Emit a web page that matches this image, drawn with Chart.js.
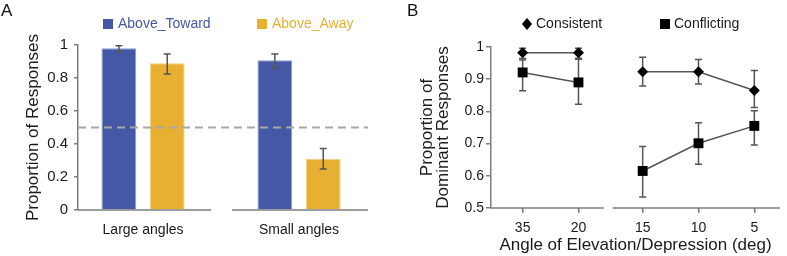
<!DOCTYPE html>
<html>
<head>
<meta charset="utf-8">
<script src="https://cdn.jsdelivr.net/npm/chart.js@4"></script>
<style>
  body { margin: 0; background: #fff; }
  #wrap { position: relative; width: 787px; height: 256px; }
  #wrap canvas { position: absolute; top: 0; }
</style>
</head>
<body>
<div id="wrap">
  <canvas id="chartA" width="390" height="256" style="left:0"></canvas>
  <canvas id="chartB" width="397" height="256" style="left:390px"></canvas>
</div>
<script>
// ---- panel A data ----
const groupLabels = ['Large angles', 'Small angles'];
const towardVals = [0.98, 0.907];
const towardLow = [0.957, 0.862];
const towardHigh = [0.996, 0.945];
const awayVals = [0.889, 0.309];
const awayLow = [0.824, 0.248];
const awayHigh = [0.945, 0.372];
const chanceLevel = 0.5;
const yTicksA = [0, 0.2, 0.4, 0.6, 0.8, 1];

// ---- panel B data ----
const angleLabels = ['35', '20', '15', '10', '5'];
const consistentVals = [0.982, 0.982, 0.923, 0.923, 0.865];
const consistentLow = [0.964, 0.965, 0.879, 0.885, 0.812];
const consistentHigh = [0.996, 0.996, 0.968, 0.961, 0.927];
const conflictingVals = [0.921, 0.89, 0.615, 0.701, 0.755];
const conflictingLow = [0.864, 0.822, 0.534, 0.636, 0.696];
const conflictingHigh = [0.96, 0.962, 0.691, 0.765, 0.802];
const yTicksB = [0.5, 0.6, 0.7, 0.8, 0.9, 1];

const BLUE = '#4558a6';
const YELLOW = '#e7b032';
const AXIS = '#7d7d7d';
const ERR = '#555555';
const FONT = "'Liberation Sans', Arial, sans-serif";

Chart.defaults.font.family = FONT;
Chart.defaults.color = '#1a1a1a';

const fmtTick = v => String(+v.toFixed(2));

// x position in panel B: small gap where the axis is broken
const breakAt = 2;
const xGapB = 0.15;
const xPosB = angleLabels.map((_, i) => i + (i >= breakAt ? xGapB : 0));

function seriesB(vals) {
    const pts = [];
    vals.forEach((v, i) => {
        if (i === breakAt) pts.push({ x: (xPosB[i - 1] + xPosB[i]) / 2, y: null });
        pts.push({ x: xPosB[i], y: v });
    });
    return pts;
}

function drawErr(ctx, x, yLo, yHi, cap) {
    ctx.beginPath();
    ctx.moveTo(x, yLo); ctx.lineTo(x, yHi);
    ctx.moveTo(x - cap, yLo); ctx.lineTo(x + cap, yLo);
    ctx.moveTo(x - cap, yHi); ctx.lineTo(x + cap, yHi);
    ctx.stroke();
}

// broken x-axis baseline, drawn in two pieces
const brokenAxis = {
    id: 'brokenAxis',
    afterDraw(chart, args, opts) {
        const { ctx, scales: { x, y } } = chart;
        const yb = y.getPixelForValue(y.min);
        ctx.save();
        ctx.strokeStyle = AXIS;
        ctx.lineWidth = 1.5;
        ctx.beginPath();
        ctx.moveTo(x.getPixelForValue(x.min), yb);
        ctx.lineTo(x.getPixelForValue(opts.from), yb);
        ctx.moveTo(x.getPixelForValue(opts.to), yb);
        ctx.lineTo(x.getPixelForValue(x.max), yb);
        ctx.stroke();
        ctx.restore();
    }
};

// panel letter + hand placed legend
const panelDeco = {
    id: 'panelDeco',
    afterDraw(chart, args, opts) {
        const ctx = chart.ctx;
        ctx.save();
        ctx.textBaseline = 'middle';
        ctx.fillStyle = '#111';
        ctx.font = `17px ${FONT}`;
        ctx.fillText(opts.letter, opts.letterX, 11);
        ctx.font = `14px ${FONT}`;
        opts.items.forEach(it => {
            ctx.fillStyle = it.color;
            if (it.shape === 'square') {
                ctx.fillRect(it.x - 5, 24 - 5, 10, 10);
            } else {
                ctx.beginPath();
                ctx.moveTo(it.x, 24 - 6); ctx.lineTo(it.x + 5, 24);
                ctx.lineTo(it.x, 24 + 6); ctx.lineTo(it.x - 5, 24);
                ctx.closePath(); ctx.fill();
            }
            ctx.fillStyle = it.textColor || it.color;
            ctx.fillText(it.text, it.x + it.dx, 24);
        });
        ctx.restore();
    }
};

// ---------- Panel A ----------
const barErrors = {
    id: 'barErrors',
    afterDatasetsDraw(chart) {
        const { ctx, scales: { y } } = chart;
        const lows = [towardLow, awayLow];
        const highs = [towardHigh, awayHigh];
        ctx.save();
        // chance line
        ctx.strokeStyle = '#a8a8a8';
        ctx.lineWidth = 2;
        ctx.setLineDash([8, 5]);
        const yc = y.getPixelForValue(chanceLevel);
        ctx.beginPath();
        ctx.moveTo(chart.chartArea.left, yc);
        ctx.lineTo(chart.chartArea.right, yc);
        ctx.stroke();
        ctx.setLineDash([]);
        ctx.strokeStyle = ERR;
        ctx.lineWidth = 1.5;
        chart.data.datasets.forEach((ds, d) => {
            chart.getDatasetMeta(d).data.forEach((bar, i) => {
                drawErr(ctx, bar.x, y.getPixelForValue(lows[d][i]), y.getPixelForValue(highs[d][i]), 3.5);
            });
        });
        ctx.restore();
    }
};

new Chart(document.getElementById('chartA'), {
    type: 'bar',
    data: {
        datasets: [
            {
                label: 'Above_Toward',
                data: towardVals.map((v, i) => ({ x: i, y: v })),
                backgroundColor: BLUE,
                borderColor: '#8e9bd0',
                borderWidth: 1
            },
            {
                label: 'Above_Away',
                data: awayVals.map((v, i) => ({ x: i, y: v })),
                backgroundColor: YELLOW,
                borderColor: '#f3d27f',
                borderWidth: 1
            }
        ]
    },
    options: {
        responsive: false,
        animation: false,
        categoryPercentage: 0.62,
        barPercentage: 0.72,
        layout: { padding: { top: 45, right: 22, left: 0, bottom: 0 } },
        scales: {
            x: {
                type: 'linear',
                offset: false,
                min: -0.417,
                max: 1.442,
                grid: { display: false, offset: false },
                border: { display: false },
                afterBuildTicks: s => { s.ticks = groupLabels.map((_, i) => ({ value: i })); },
                ticks: { callback: (v, i) => groupLabels[i], font: { size: 14 }, padding: 4, maxRotation: 0 },
                afterFit: s => { s.height = 46; }
            },
            y: {
                min: 0,
                max: 1,
                afterBuildTicks: s => { s.ticks = yTicksA.map(v => ({ value: v })); },
                grid: { drawOnChartArea: false, color: AXIS, tickLength: 4, lineWidth: 1.5 },
                border: { color: AXIS, width: 1.5 },
                ticks: { font: { size: 15 }, padding: 6, callback: fmtTick },
                title: { display: true, text: 'Proportion of Responses', font: { size: 17 }, padding: { top: 23, bottom: 0 } },
                afterFit: s => { s.width = 78; }
            }
        },
        plugins: {
            legend: { display: false },
            tooltip: { enabled: false },
            brokenAxis: { from: 0.436, to: 0.57 },
            panelDeco: {
                letter: 'A', letterX: 1,
                items: [
                    { shape: 'square', x: 108, dx: 10, color: BLUE, text: 'Above_Toward' },
                    { shape: 'square', x: 262, dx: 10, color: YELLOW, text: 'Above_Away' }
                ]
            }
        }
    },
    plugins: [barErrors, brokenAxis, panelDeco]
});

// ---------- Panel B ----------
const lineErrors = {
    id: 'lineErrors',
    beforeDatasetsDraw(chart) {
        const { ctx, scales: { x, y } } = chart;
        const groups = [[consistentLow, consistentHigh], [conflictingLow, conflictingHigh]];
        ctx.save();
        ctx.strokeStyle = ERR;
        ctx.lineWidth = 1.5;
        groups.forEach(([lo, hi]) => {
            xPosB.forEach((p, i) => {
                drawErr(ctx, x.getPixelForValue(p), y.getPixelForValue(lo[i]), y.getPixelForValue(hi[i]), 3.5);
            });
        });
        ctx.restore();
    }
};

new Chart(document.getElementById('chartB'), {
    type: 'line',
    data: {
        datasets: [
            {
                label: 'Consistent',
                data: seriesB(consistentVals),
                borderColor: '#555',
                borderWidth: 1.5,
                pointStyle: 'rectRot',
                pointRadius: 5.5,
                pointBackgroundColor: '#000',
                pointBorderColor: '#000',
                pointBorderWidth: 0,
                spanGaps: false
            },
            {
                label: 'Conflicting',
                data: seriesB(conflictingVals),
                borderColor: '#555',
                borderWidth: 1.5,
                pointStyle: 'rect',
                pointRadius: 7,
                pointBackgroundColor: '#000',
                pointBorderColor: '#000',
                pointBorderWidth: 0,
                spanGaps: false
            }
        ]
    },
    options: {
        responsive: false,
        animation: false,
        layout: { padding: { top: 47, right: 4, left: 0, bottom: 0 } },
        scales: {
            x: {
                type: 'linear',
                min: -0.567,
                max: 4.61,
                border: { display: false },
                grid: { drawOnChartArea: false, color: AXIS, tickLength: 5, lineWidth: 1.5 },
                afterBuildTicks: s => { s.ticks = xPosB.map(v => ({ value: v })); },
                ticks: { callback: (v, i) => angleLabels[i], font: { size: 14 }, padding: 7, maxRotation: 0 },
                title: { display: true, text: 'Angle of Elevation/Depression (deg)', font: { size: 17 }, padding: { top: 2, bottom: 0 } },
                afterFit: s => { s.height = 48; }
            },
            y: {
                min: 0.5,
                max: 1,
                afterBuildTicks: s => { s.ticks = yTicksB.map(v => ({ value: v })); },
                grid: { drawOnChartArea: false, color: AXIS, tickLength: 5, lineWidth: 1.5 },
                border: { color: AXIS, width: 1.5 },
                ticks: { font: { size: 14 }, padding: 2, callback: fmtTick },
                title: {
                    display: true,
                    text: ['Proportion of', 'Dominant Responses'],
                    font: { size: 17, lineHeight: 0.95 },
                    padding: { top: 29, bottom: 0 }
                },
                afterFit: s => { s.width = 101; }
            }
        },
        plugins: {
            legend: { display: false },
            tooltip: { enabled: false },
            brokenAxis: { from: 1.454, to: 1.613 },
            panelDeco: {
                letter: 'B', letterX: 17,
                items: [
                    { shape: 'diamond', x: 137, dx: 9, color: '#000', textColor: '#1a1a1a', text: 'Consistent' },
                    { shape: 'square', x: 275, dx: 9, color: '#000', textColor: '#1a1a1a', text: 'Conflicting' }
                ]
            }
        }
    },
    plugins: [lineErrors, brokenAxis, panelDeco]
});
</script>
</body>
</html>
